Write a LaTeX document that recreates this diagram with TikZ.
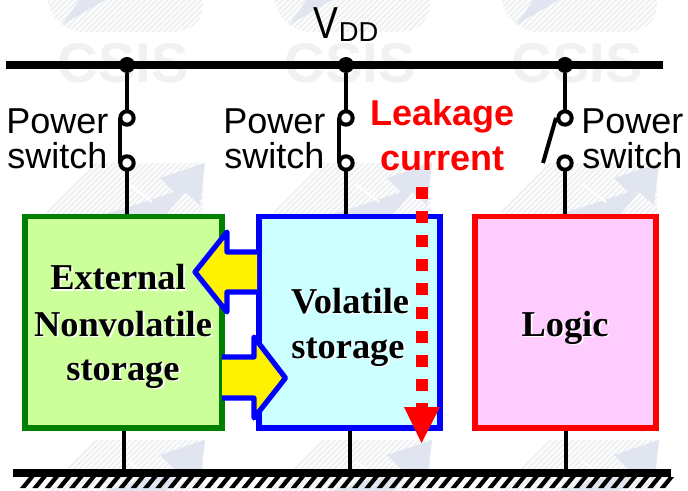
\documentclass[tikz,border=0pt]{standalone}
\usepackage{fontspec}
\setmainfont{Liberation Sans}
\newfontfamily\serifb{Liberation Serif}[BoldFont={Liberation Serif Bold}]
\usepackage{graphicx}
\definecolor{wmgray}{HTML}{F0F1F3}
\definecolor{wmhatch}{HTML}{EEF0F2}
\definecolor{wmblue}{HTML}{E0E5EF}
\definecolor{nvfill}{HTML}{CCFF99}
\definecolor{vfill}{HTML}{CCFFFF}
\definecolor{lfill}{HTML}{FFCCFF}
\definecolor{nvline}{HTML}{008000}
\newcommand{\glowtxt}[1]{\leavevmode\rlap{\raisebox{-1.4pt}{\hspace{1.4pt}\textcolor{white}{#1}}}#1}
\newcommand{\wmlogo}[2]{%
  \begin{scope}[shift={(#1,#2)}]
    \begin{scope}
      \clip (68,-163) -- (203,-163) -- (203,-280) .. controls (203,-300) and (190,-309) .. (170,-309)
        -- (80,-309) .. controls (60,-305) and (47,-290) .. (47,-270) -- (47,-190) -- (52,-180) -- cycle;
      \foreach \k in {0,...,62} {\draw[wmhatch,line width=1.5pt] ({-60+5.6*\k},-320) -- ++(175,175);}
    \end{scope}
    \fill[wmblue] (205,-163) -- (200,-205) -- (185,-192) -- (165,-216) -- (105,-277) -- (62,-302)
      -- (90,-262) -- (93,-216) .. controls (115,-212) and (135,-205) .. (150,-200) -- (174,-192) -- (160,-178) -- cycle;
    \draw[white,line width=1.5pt] (128,-184) -- (152,-202);
  \end{scope}}
\tikzset{
  x=0.75pt,y=0.75pt,
  railline/.style={line width=6pt,black},
  wire/.style={line width=3pt,black},
  jdot/.style={circle,fill=black,inner sep=0pt,minimum size=12pt},
  swc/.style={circle,draw=black,fill=white,line width=3pt,inner sep=0pt,minimum size=10pt},
  blockbox/.style={rectangle,line width=4.2pt,inner sep=0pt,minimum height=158.6pt},
  lab/.style={font=\fontsize{27}{27}\selectfont,inner sep=0pt,anchor=base west},
  leak/.style={font=\fontsize{27}{27}\selectfont\bfseries,text=red,inner sep=0pt,anchor=base},
  blocktxt/.style={font=\serifb\fontsize{27.3}{27.3}\selectfont\bfseries,inner sep=0pt,anchor=base},
  wmtxt/.style={font=\fontsize{42}{42}\selectfont\bfseries,text=wmgray,inner sep=0pt,anchor=base},
  blockarrow/.style={draw=blue,line width=3.9pt,line join=round},
}
\begin{document}
\begin{tikzpicture}
\useasboundingbox (0,-491) rectangle (688,0);
\fill[white] (0,-491) rectangle (688,0);
% watermark
\begin{scope}
\clip (0,-491) rectangle (688,0);
\foreach \dx in {0,227,454} {
  \wmlogo{\dx}{277}
  \wmlogo{\dx}{0}
  \wmlogo{\dx}{-277}
}
\end{scope}
\node[wmtxt] (wma) at (123,-83) {CSIS};
\node[wmtxt] (wmb) at (350,-83) {CSIS};
\node[wmtxt] (wmc) at (577,-83) {CSIS};
% rails
\coordinate (railL) at (6,-65);
\coordinate (railR) at (663,-65);
\coordinate (gndL) at (13,-473);
\coordinate (gndR) at (671,-473);
% blocks
\node[blockbox,draw=nvline,fill=nvfill,minimum width=147.75pt] (nv) at (123.5,-322.25) {};
\node[blockbox,draw=blue,fill=vfill,minimum width=135.75pt] (vol) at (349.5,-322.25) {};
\node[blockbox,draw=red,fill=lfill,minimum width=135.75pt] (logic) at (565.5,-322.25) {};
% ground
\draw[railline] (railL) -- (railR);
\draw[railline] (gndL) -- (gndR);
\foreach \k in {0,...,52} {
  \fill[black] ({20+12.3*\k},-488) -- ++(5.5,0) -- ++(9,11) -- ++(-5.5,0) -- cycle;
}
% junctions and switches
\node[jdot] (d1) at (127,-65) {};
\node[jdot] (d2) at (346,-65) {};
\node[jdot] (d3) at (565,-65) {};
\draw[wire] (d1) -- (127,-118) coordinate (t1);
\draw[wire] (d2) -- (346,-118) coordinate (t2);
\draw[wire] (d3) -- (565,-118) coordinate (t3);
\coordinate (b1) at (127,-163);
\coordinate (b2) at (346,-163);
\coordinate (b3) at (565,-163);
\draw[wire] (b1) -- (b1 |- nv.north);
\draw[wire] (b2) -- (b2 |- vol.north);
\draw[wire] (b3) -- (b3 |- logic.north);
\draw[wire] (nv.south) -- (nv.south |- gndL);
\draw[wire] (vol.south) -- (vol.south |- gndL);
\draw[wire] (logic.south) -- (logic.south |- gndL);
% levers
\draw[wire] (119.5,-118) -- (119.5,-163);
\draw[wire] (338.5,-118) -- (338.5,-163);
\draw[wire] (556,-118) -- (543,-163);
\node[swc] (s1a) at (t1) {};
\node[swc] (s1b) at (b1) {};
\node[swc] (s2a) at (t2) {};
\node[swc] (s2b) at (b2) {};
\node[swc] (s3a) at (t3) {};
\node[swc] (s3b) at (b3) {};
% block arrows
\fill[yellow] (257,-252) -- (227,-252) -- (227,-232) -- (195,-272) -- (227,-312) -- (227,-292) -- (257,-292) -- cycle;
\draw[blockarrow] (257,-252) -- (227,-252) -- (227,-232) -- (195,-272) -- (227,-312) -- (227,-292) -- (257,-292);
\fill[yellow] (222,-357) -- (254,-357) -- (254,-337) -- (285.5,-378) -- (254,-418) -- (254,-398) -- (222,-398) -- cycle;
\draw[blockarrow] (222,-357) -- (254,-357) -- (254,-337) -- (285.5,-378) -- (254,-418) -- (254,-398) -- (222,-398);
% labels
\node[lab] (p1) at (6,-134) {Power};
\node[lab] (w1) at (7,-169) {switch};
\node[lab] (p2) at (223,-134) {Power};
\node[lab] (w2) at (224,-169) {switch};
\node[lab] (p3) at (581,-134) {Power};
\node[lab] (w3) at (582,-169) {switch};
\node[inner sep=0pt,anchor=base west] (vdd) at (313,-39) {\fontsize{28}{28}\selectfont\scalebox{1}[1.2]{V}};
\node[inner sep=0pt,anchor=base west,font=\fontsize{20.5}{20.5}\selectfont] (dd) at (338.5,-42) {DD};
\node[leak] (lk) at (442.5,-126) {Leakage};
\node[leak] (cu) at (442.5,-171) {current};
% block texts
\node[blocktxt] (e1) at (118,-290) {\glowtxt{External}};
\node[blocktxt] (e2) at (123,-336) {\glowtxt{Nonvolatile}};
\node[blocktxt] (e3) at (123,-380) {\glowtxt{storage}};
\node[blocktxt] (v1) at (350,-313) {\glowtxt{Volatile}};
\node[blocktxt] (v2) at (348,-358) {\glowtxt{storage}};
\node[blocktxt] (l1) at (565,-336) {\glowtxt{Logic}};
% leakage arrow
\coordinate (lkS) at (421.5,-187);
\coordinate (lkE) at (421.5,-415);
\draw[red,line width=9pt,dash pattern=on 9pt off 9pt] (lkS) -- (lkE);
\fill[red] (404,-407) -- (440,-407) -- (421.5,-443) -- cycle;
\end{tikzpicture}
\end{document}
